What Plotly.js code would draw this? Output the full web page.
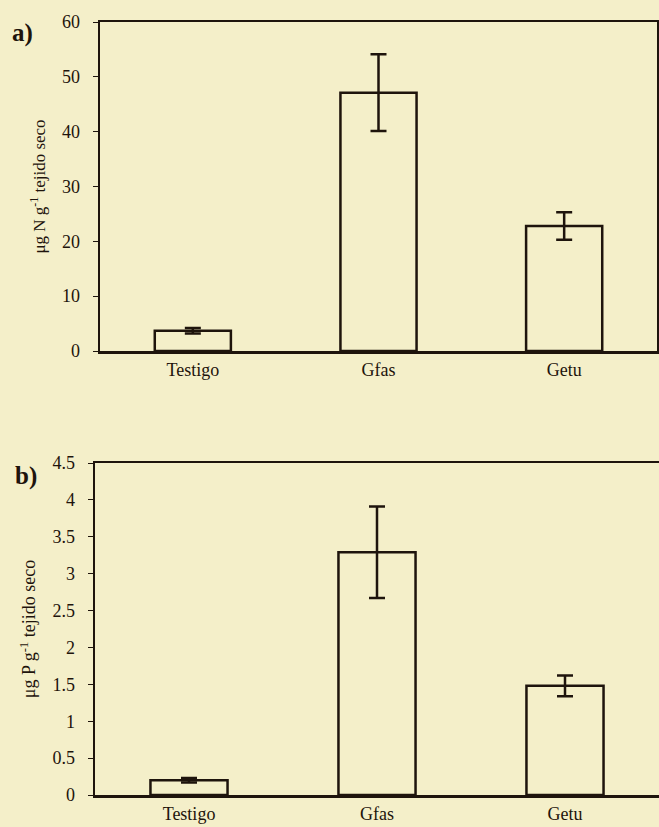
<!DOCTYPE html>
<html>
<head>
<meta charset="utf-8">
<script src="https://cdn.plot.ly/plotly-3.0.1.min.js"></script>
<style>
html,body{margin:0;padding:0;background:#f4efc9;}
#chart{width:659px;height:827px;}
</style>
</head>
<body>
<div id="chart"></div>
<script>
// Data
const categories = ["Testigo", "Gfas", "Getu"];
const nitrogen = [3.7, 47.1, 22.8];
const nitrogenErr = [0.5, 7.0, 2.5];
const phosphorus = [0.2, 3.29, 1.48];
const phosphorusErr = [0.03, 0.62, 0.14];
const nTicks = [0, 10, 20, 30, 40, 50, 60];
const pTicks = [0, 0.5, 1, 1.5, 2, 2.5, 3, 3.5, 4, 4.5];
const pTickText = ["0", "0.5", "1", "1.5", "2", "2.5", "3", "3.5", "4", "4.5"];

const W = 659, H = 827;
const ink = "#1e140c";
const bg = "#f4efc9";
const font = {family: "Liberation Serif, Times New Roman, serif", color: ink};
const f = (s) => Object.assign({}, font, {size: s});

const barStyle = {
  type: "bar",
  marker: {color: bg, line: {color: ink, width: 2.5}},
  width: 0.41,
  showlegend: false,
  hoverinfo: "skip"
};

const traces = [
  Object.assign({}, barStyle, {
    x: categories, y: nitrogen, xaxis: "x", yaxis: "y",
    error_y: {type: "data", array: nitrogenErr, visible: true, color: ink, thickness: 2.5, width: 8}
  }),
  Object.assign({}, barStyle, {
    x: categories, y: phosphorus, xaxis: "x2", yaxis: "y2",
    error_y: {type: "data", array: phosphorusErr, visible: true, color: ink, thickness: 2.5, width: 8}
  })
];

const axA = 1 - 22 / H, axB = 1 - 351 / H;
const bxA = 1 - 463 / H, bxB = 1 - 795 / H;

const layout = {
  width: W, height: H,
  margin: {l: 0, r: 0, t: 0, b: 0},
  paper_bgcolor: bg,
  plot_bgcolor: bg,
  font: f(17),
  xaxis: {
    domain: [100 / W, 657 / W], anchor: "y",
    showline: true, linecolor: ink, linewidth: 2.5, mirror: true,
    ticks: "", showgrid: false, zeroline: false,
    tickfont: f(18), ticklabelstandoff: 1
  },
  yaxis: {
    domain: [axB, axA], anchor: "x",
    range: [0, 60], tickvals: nTicks,
    showline: true, linecolor: ink, linewidth: 2.5, mirror: true,
    ticks: "outside", ticklen: 5, tickwidth: 1, tickcolor: ink,
    showgrid: false, zeroline: false,
    tickfont: f(18), ticklabelstandoff: 9,
    title: {text: "μg N g<sup>-1</sup> tejido seco", font: f(17), standoff: 12}
  },
  xaxis2: {
    domain: [95 / W, 1], anchor: "y2",
    showline: true, linecolor: ink, linewidth: 2.5, mirror: true,
    ticks: "", showgrid: false, zeroline: false,
    tickfont: f(18), ticklabelstandoff: 1
  },
  yaxis2: {
    domain: [bxB, bxA], anchor: "x2",
    range: [0, 4.5], tickvals: pTicks, ticktext: pTickText,
    showline: true, linecolor: ink, linewidth: 2.5, mirror: false,
    ticks: "outside", ticklen: 5, tickwidth: 1, tickcolor: ink,
    showgrid: false, zeroline: false,
    tickfont: f(18), ticklabelstandoff: 9,
    title: {text: "μg P g<sup>-1</sup> tejido seco", font: f(18), standoff: 12}
  },
  annotations: [
    {text: "<b>a)</b>", xref: "paper", yref: "paper", x: 10 / W, y: 1 - 33 / H,
     xanchor: "left", yanchor: "middle", showarrow: false, font: f(25)},
    {text: "<b>b)</b>", xref: "paper", yref: "paper", x: 13 / W, y: 1 - 476 / H,
     xanchor: "left", yanchor: "middle", showarrow: false, font: f(25)}
  ]
};

Plotly.newPlot("chart", traces, layout, {displayModeBar: false, staticPlot: true});
</script>
</body>
</html>
